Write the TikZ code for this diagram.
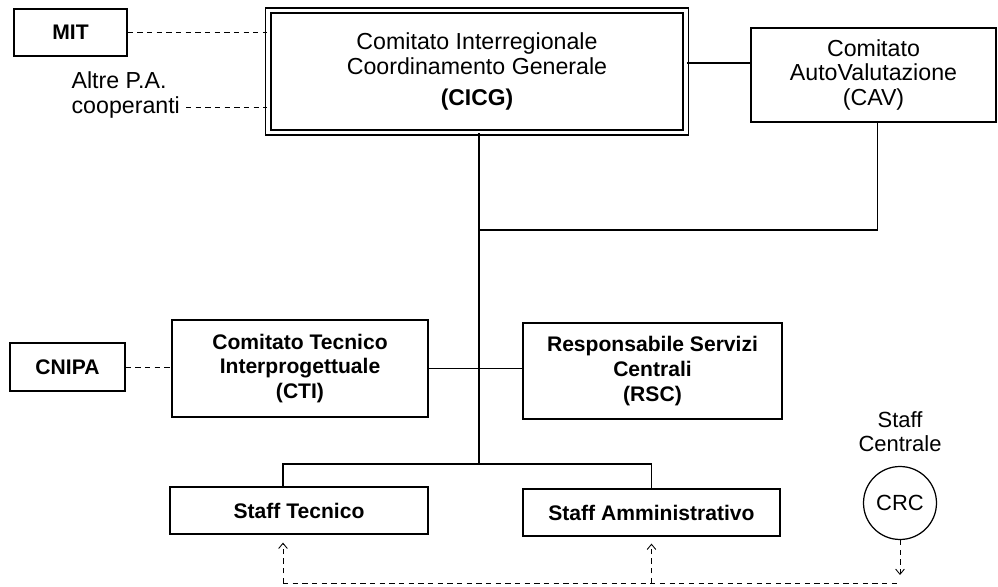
\documentclass[tikz,border=0pt]{standalone}
\usepackage{fontspec}
\setmainfont{Liberation Sans}
\usetikzlibrary{arrows.meta}

\begin{document}
\begin{tikzpicture}
  [x=0.02cm,y=-0.02cm,line width=0.7pt,
   every node/.style={inner sep=0pt,align=center,font=\fontsize{13.2}{14.2}\selectfont},
   box/.style={draw,rectangle},
   bold/.style={font=\fontsize{12}{14}\selectfont\bfseries},
   link/.style={dash pattern=on 3pt off 2.5pt,line width=0.5pt},
   staff/.style={link,-{Straight Barb[length=3pt,width=5pt]}}]
  \useasboundingbox (0,0) rectangle (998,587);

  \node[box,bold,minimum width=2.26cm,minimum height=0.94cm] (mit) at (70.5,32.5) {MIT};
  \node[anchor=west,align=left] (altre) at (71,95) {Altre P.A.\\cooperanti};
  \node[box,double,line width=0.9pt,double distance=2.2pt,minimum width=8.36cm,minimum height=2.44cm] (cicg) at (477,71.5)
    {Comitato Interregionale\\Coordinamento Generale\\[3pt]{\fontsize{13}{15}\bfseries(CICG)}};
  \node[box,minimum width=4.9cm,minimum height=1.88cm] (cav) at (873.5,75)
    {Comitato\\AutoValutazione\\(CAV)};
  \node[box,bold,minimum width=2.3cm,minimum height=0.96cm] (cnipa) at (67.5,367) {CNIPA};
  \node[box,bold,minimum width=5.12cm,minimum height=1.94cm] (cti) at (300,368.5)
    {Comitato Tecnico\\Interprogettuale\\(CTI)};
  \node[box,bold,minimum width=5.18cm,minimum height=1.92cm] (rsc) at (652.5,371)
    {Responsabile Servizi\\Centrali\\(RSC)};
  \node[box,bold,minimum width=5.16cm,minimum height=0.94cm] (st) at (299,510.5) {Staff Tecnico};
  \node[box,bold,minimum width=5.14cm,minimum height=0.94cm] (sa) at (651.5,512.5) {Staff Amministrativo};
  \node[font=\fontsize{12.5}{13.5}\selectfont] (centrale) at (900,432) {Staff\\Centrale};
  \node[draw,circle,minimum size=1.46cm,font=\fontsize{12.5}{13.5}\selectfont] (crc) at (900,503) {CRC};

  \coordinate (altend) at (186,107);
  \coordinate (hub) at (479,230);
  \coordinate (mid) at (479,369);
  \coordinate (split) at (479,464);
  \coordinate (bus) at (283,583);

  % dashed links on the left
  \draw[link] (mit.east) -- (mit.east -| cicg.west);
  \draw[link] (altend) -- (altend -| cicg.west);
  \draw[link] (cnipa.east) -- (cnipa.east -| cti.west);

  % hierarchy
  \draw (cicg.east |- 0,63) -- (cav.west |- 0,63);
  \draw (cicg.south -| hub) -- (split);
  \draw ([xshift=0.08cm]cav.south) |- (hub);
  \draw (cti.east) -- (cti.east -| rsc.west);
  \draw ([xshift=-0.32cm]st.north) |- (split) -| (sa.north);

  % staff centrale
  \draw[link] (bus) -- (bus -| crc);
  \draw[staff] (crc.south) -- ([yshift=0.16cm]crc.south |- bus);
  \draw[staff] (bus) -- ([yshift=-0.16cm]bus |- st.south);
  \draw[staff] (bus -| sa.south) -- ([yshift=-0.14cm]sa.south);

\end{tikzpicture}
\end{document}
